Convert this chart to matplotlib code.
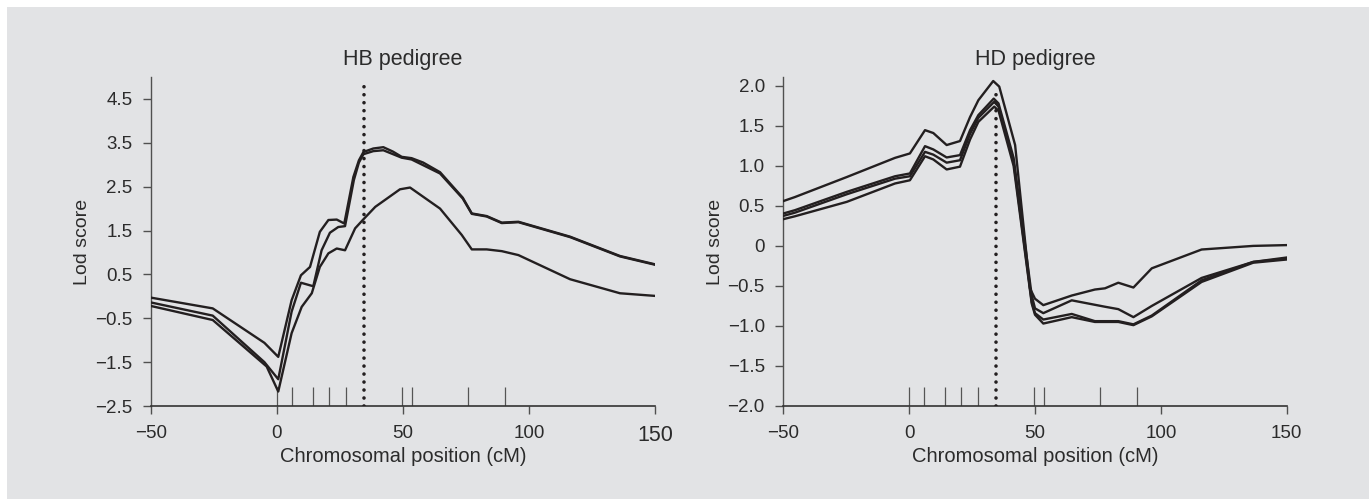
import matplotlib
matplotlib.use("Agg")
import matplotlib.pyplot as plt
from matplotlib.patches import Rectangle

plt.rcParams['font.family'] = ['Liberation Sans', 'DejaVu Sans']

# ---------------- data ----------------
# HB pedigree
hb_a_x = [-50, -25.5, -5, 0.5, 5.8, 9.5, 13.1, 17, 20.4, 23.7, 26.7, 30.3, 32.5, 34.3, 38.2, 42.2, 46, 49.5, 53.4, 58, 64.7, 73.7, 77.3, 83.2, 89.2, 95.8, 116.3, 136.1, 150]
hb_a_y = [-0.03, -0.275, -1.06, -1.38, -0.09, 0.48, 0.67, 1.47, 1.74, 1.75, 1.66, 2.72, 3.10, 3.29, 3.37, 3.40, 3.30, 3.18, 3.15, 3.05, 2.83, 2.25, 1.89, 1.83, 1.68, 1.70, 1.36, 0.92, 0.73]
hb_b_x = [-50, -25.5, -5, 0.5, 5.8, 9.5, 14.4, 17.7, 21, 24.3, 27, 30.5, 32.5, 34.3, 38.2, 42.2, 49.5, 53.4, 64.7, 73.7, 77.3, 83.2, 89.2, 95.8, 116.3, 136.1, 150]
hb_b_y = [-0.14, -0.44, -1.50, -1.89, -0.35, 0.31, 0.23, 1.05, 1.45, 1.58, 1.60, 2.65, 3.05, 3.24, 3.31, 3.33, 3.16, 3.12, 2.80, 2.23, 1.88, 1.82, 1.67, 1.69, 1.35, 0.91, 0.72]
hb_c_x = [-50, -25.5, -4.1, 0.5, 5.8, 9.8, 13.8, 17, 20.4, 23.7, 27, 31, 34.2, 39, 48.8, 52.8, 64.7, 73.3, 77.3, 83.2, 89.2, 95.8, 116.3, 136.1, 150]
hb_c_y = [-0.22, -0.54, -1.60, -2.17, -0.84, -0.24, 0.07, 0.67, 0.98, 1.09, 1.05, 1.55, 1.75, 2.04, 2.44, 2.48, 2.00, 1.40, 1.07, 1.07, 1.03, 0.94, 0.39, 0.07, 0.01]

# HD pedigree
hd_1_x = [-50, -45.4, -24.8, -5.6, 0.3, 6.3, 9.6, 14.9, 20.2, 24.2, 27.5, 33.4, 35.8, 42.1, 48, 50, 53.3, 64.6, 73.8, 77.8, 83.1, 89.1, 96.4, 116.2, 136.7, 150]
hd_1_y = [0.56, 0.61, 0.86, 1.10, 1.155, 1.446, 1.41, 1.26, 1.31, 1.61, 1.82, 2.06, 1.99, 1.26, -0.53, -0.66, -0.74, -0.62, -0.545, -0.53, -0.46, -0.52, -0.28, -0.045, 0.0, 0.01]
hd_2_x = [-50, -45.4, -24.8, -5.6, 0.3, 6.3, 9.6, 14.9, 20.2, 24.2, 27.5, 33.6, 35.5, 41.5, 48.7, 50, 53.3, 64.6, 77.8, 83.1, 89.1, 96.4, 116.2, 136.7, 150]
hd_2_y = [0.405, 0.446, 0.675, 0.87, 0.905, 1.246, 1.205, 1.105, 1.134, 1.446, 1.634, 1.84, 1.78, 1.10, -0.62, -0.78, -0.84, -0.68, -0.76, -0.79, -0.89, -0.75, -0.40, -0.20, -0.145]
hd_3_x = [-50, -45.4, -24.8, -5.6, 0.3, 6.3, 9.6, 14.9, 20.2, 24.2, 27.5, 33.8, 35.5, 41.5, 48.7, 50, 53.3, 64.6, 73.8, 83.1, 89.1, 96.4, 116.2, 136.7, 150]
hd_3_y = [0.375, 0.415, 0.645, 0.84, 0.87, 1.175, 1.14, 1.04, 1.07, 1.40, 1.60, 1.80, 1.74, 1.05, -0.70, -0.84, -0.92, -0.85, -0.94, -0.94, -0.98, -0.87, -0.43, -0.20, -0.16]
hd_4_x = hd_3_x
hd_4_y = [0.334, 0.37, 0.55, 0.78, 0.82, 1.12, 1.08, 0.955, 0.99, 1.33, 1.55, 1.74, 1.69, 1.00, -0.72, -0.86, -0.97, -0.89, -0.95, -0.95, -0.99, -0.88, -0.45, -0.21, -0.17]

markers_cm = [0, 5.8, 14.2, 20.6, 27.5, 49.5, 53.7, 75.9, 90.6]
qtl_cm = 34.4
hb_qtl_top = 4.79
hd_qtl_top = 1.97

x_ticks = [-50, 0, 50, 100, 150]
x_ticklabels = ['\u221250', '0', '50', '100', '150']
hb_yticks = [-2.5, -1.5, -0.5, 0.5, 1.5, 2.5, 3.5, 4.5]
hb_yticklabels = ['\u22122.5', '\u22121.5', '\u22120.5', '0.5', '1.5', '2.5', '3.5', '4.5']
hd_yticks = [-2.0, -1.5, -1.0, -0.5, 0, 0.5, 1.0, 1.5, 2.0]
hd_yticklabels = ['\u22122.0', '\u22121.5', '\u22121.0', '\u22120.5', '0', '0.5', '1.0', '1.5', '2.0']

titles = ['HB pedigree', 'HD pedigree']
xlabel = 'Chromosomal position (cM)'
ylabel = 'Lod score'

# ---------------- style ----------------
BG = '#e2e3e5'
LINE = '#231f20'
TXT = '#2b2b2b'
AX = '#505050'

fig = plt.figure(figsize=(13.69, 4.99), dpi=100)
fig.patch.set_facecolor('white')
fig.patches.append(Rectangle((7/1369, 0), 1, 1 - 7/499, transform=fig.transFigure,
                             facecolor=BG, edgecolor='none', zorder=-10))

ax1 = fig.add_axes([151/1369, 1 - 406/499, 504/1369, 329/499])
ax2 = fig.add_axes([783.3/1369, 1 - 406/499, 503.4/1369, 329/499])

def style(ax, ylim, yt, ytl, title):
    ax.set_facecolor('none')
    ax.set_xlim(-50, 150)
    ax.set_ylim(*ylim)
    for s in ['top', 'right']:
        ax.spines[s].set_visible(False)
    ax.spines['left'].set_color(AX)
    ax.spines['bottom'].set_color('#333333')
    ax.spines['left'].set_linewidth(1.0)
    ax.spines['bottom'].set_linewidth(1.2)
    ax.set_xticks(x_ticks)
    ax.set_xticklabels(x_ticklabels)
    ax.set_yticks(yt)
    ax.set_yticklabels(ytl)
    ax.tick_params(direction='out', length=5.8, width=1.0, color=AX,
                   labelsize=13.5, labelcolor=TXT)
    ax.tick_params(axis='x', pad=8)
    ax.tick_params(axis='y', pad=7.5)
    ax.set_title(title, fontsize=15.5, color=TXT, pad=9)
    ax.set_xlabel(xlabel, fontsize=14.5, color=TXT)
    ax.xaxis.label.set_va('center')
    ax.xaxis.set_label_coords(0.5, -0.155)
    ax.set_ylabel(ylabel, fontsize=14, color=TXT)
    ax.yaxis.label.set_va('center')
    ax.yaxis.set_label_coords(-0.135, 0.5)
    # marker positions
    ax.vlines(markers_cm, 0, 0.058, transform=ax.get_xaxis_transform(),
              color='#555555', lw=0.9, zorder=2)

style(ax1, (-2.5, 5.0), hb_yticks, hb_yticklabels, titles[0])
style(ax2, (-2.0, 2.11), hd_yticks, hd_yticklabels, titles[1])
ax1.get_xticklabels()[-1].set_fontsize(15.5)

for xs, ys in [(hb_a_x, hb_a_y), (hb_b_x, hb_b_y), (hb_c_x, hb_c_y)]:
    ax1.plot(xs, ys, color=LINE, lw=1.7, zorder=3)
for xs, ys in [(hd_1_x, hd_1_y), (hd_2_x, hd_2_y), (hd_3_x, hd_3_y), (hd_4_x, hd_4_y)]:
    ax2.plot(xs, ys, color=LINE, lw=1.7, zorder=3)

ax1.vlines(qtl_cm, -2.5, hb_qtl_top, color=LINE, lw=2.6,
           linestyles=[(0, (0.01, 2.2))], capstyle='round', zorder=4)
ax2.vlines(qtl_cm, -2.0, hd_qtl_top, color=LINE, lw=2.6,
           linestyles=[(0, (0.01, 2.2))], capstyle='round', zorder=4)

fig.savefig('out.png', dpi=100, facecolor=fig.get_facecolor())
